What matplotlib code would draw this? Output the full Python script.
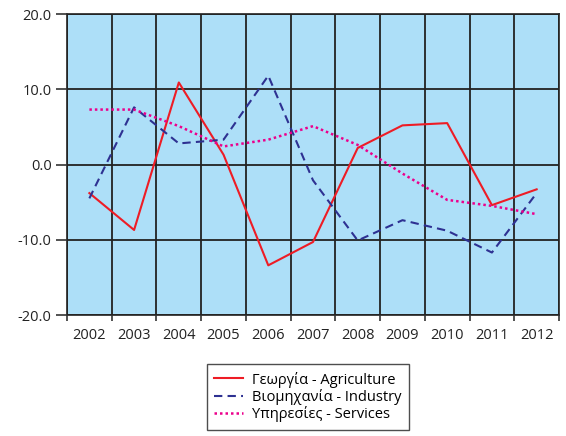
import matplotlib
matplotlib.use("Agg")
import matplotlib.pyplot as plt
import numpy as np

years = ["2002", "2003", "2004", "2005", "2006", "2007", "2008", "2009", "2010", "2011", "2012"]
agriculture = [-3.8, -8.7, 10.9, 1.3, -13.4, -10.3, 2.2, 5.2, 5.5, -5.4, -3.3]
industry = [-4.5, 7.6, 2.8, 3.3, 11.8, -2.1, -10.1, -7.4, -8.8, -11.7, -3.8]
services = [7.3, 7.3, 5.1, 2.4, 3.3, 5.1, 2.6, -1.2, -4.7, -5.5, -6.6]
labels = ["Γεωργία - Agriculture", "Βιομηχανία - Industry", "Υπηρεσίες - Services"]
yticks = [-20.0, -10.0, 0.0, 10.0, 20.0]

plt.rcParams['font.family'] = ['Open Sans', 'DejaVu Sans']

fig = plt.figure(figsize=(5.66, 4.36), dpi=100)
ax = fig.add_axes([67/566, 1-315/436, (559-67)/566, (315-14)/436])
ax.set_facecolor("#ADDFF8")

x = np.arange(len(years))
l1, = ax.plot(x, agriculture, color="#EE1C25", lw=1.5, label=labels[0])
l2, = ax.plot(x, industry, color="#2E3192", lw=1.5, ls=(0, (4, 2.5)), label=labels[1])
l3, = ax.plot(x, services, color="#EC008C", lw=1.8, ls=(0, (1, 1.2)), label=labels[2])

ax.set_xlim(-0.5, len(years) - 0.5)
ax.set_ylim(-20, 20)
ax.set_yticks(yticks)
ax.set_yticklabels([f"{v:.1f}" for v in yticks], fontsize=10.5, color="#222222")
ax.set_xticks(x)
ax.set_xticklabels(years, fontsize=10.5, color="#222222")
ax.set_xticks(np.arange(-0.5, len(years), 1.0), minor=True)
ax.tick_params(axis='x', which='major', length=0, pad=9)
ax.tick_params(axis='x', which='minor', length=4, width=1.2, color="#333333")
ax.tick_params(axis='y', which='major', length=8, width=1.2, color="#333333", pad=3)
ax.grid(True, which='minor', axis='x', color="#222222", lw=1.3)
ax.grid(True, which='major', axis='y', color="#222222", lw=1.3)
ax.set_axisbelow(False)
for l in (l1, l2, l3):
    l.set_zorder(3)
for s in ax.spines.values():
    s.set_color("#333333")
    s.set_linewidth(1.3)

leg = fig.legend(handles=[l1, l2, l3], loc="center", bbox_to_anchor=(308/566, 1-397/436),
                 frameon=True, fancybox=False, edgecolor="#222222", fontsize=10.5,
                 handlelength=2.0, borderpad=0.5, labelspacing=0.1, handletextpad=0.6)
leg.get_frame().set_linewidth(1.0)

fig.savefig("out.png", dpi=100)
